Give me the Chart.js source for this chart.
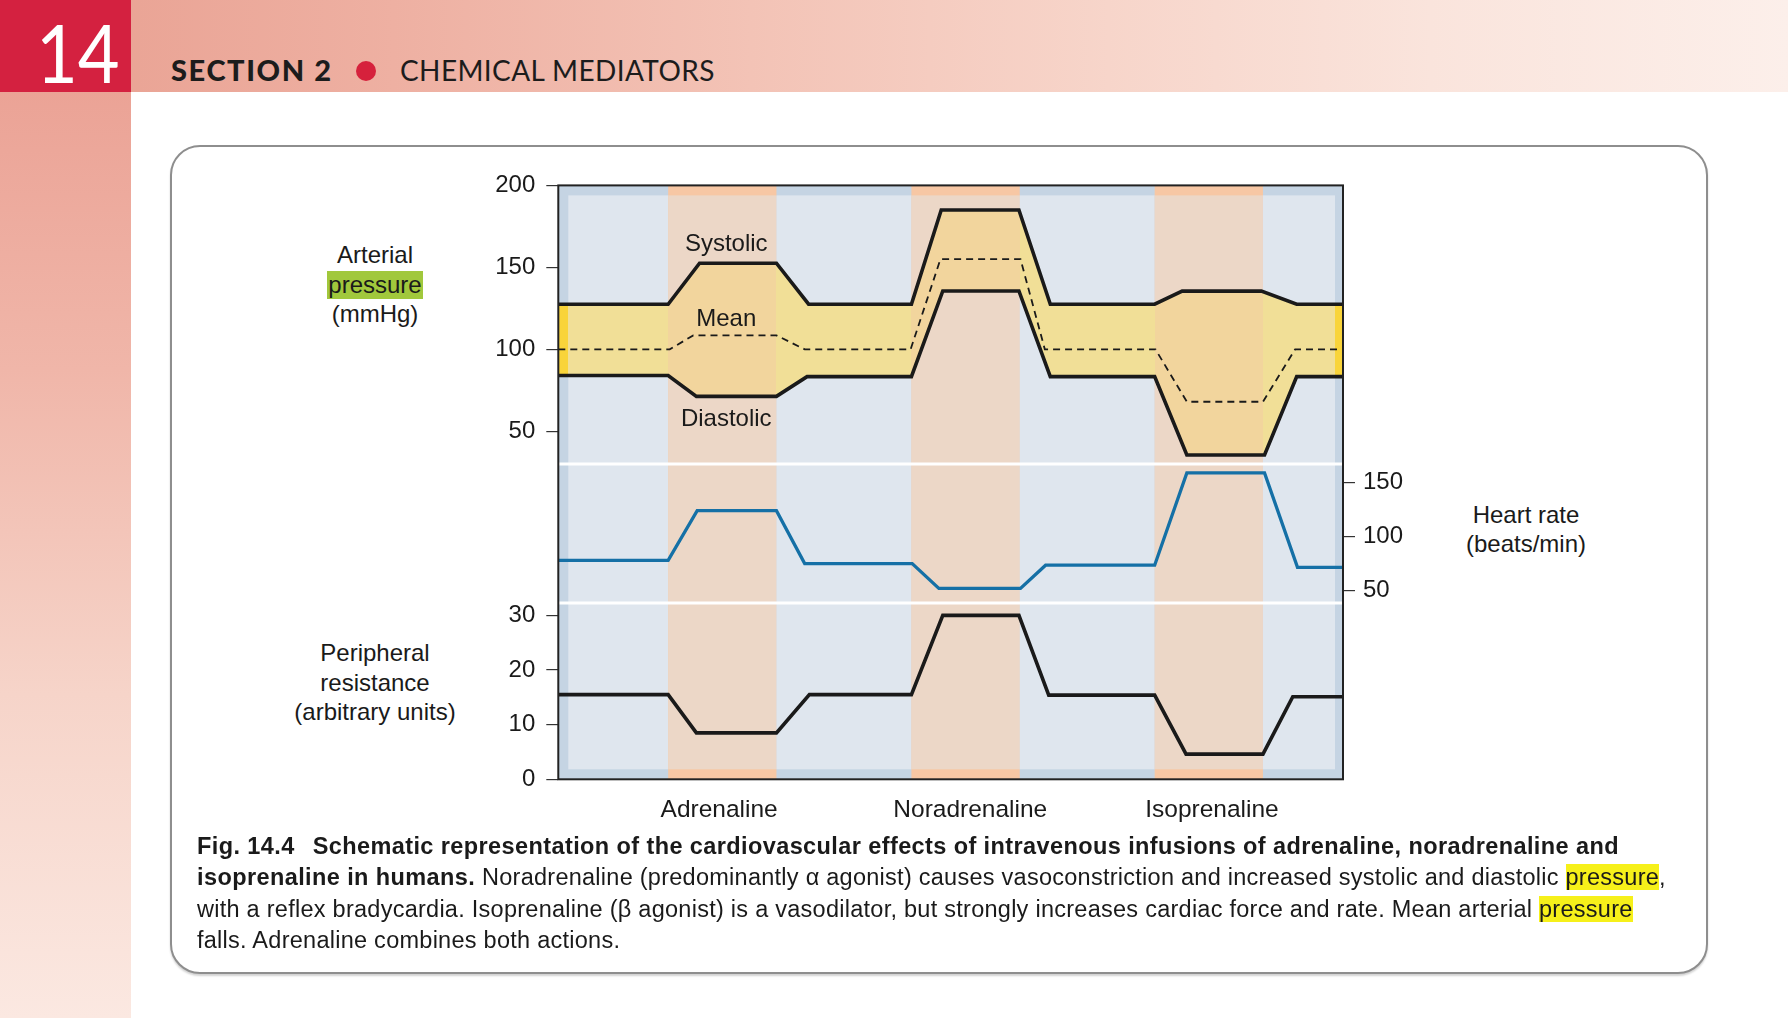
<!DOCTYPE html>
<html>
<head>
<meta charset="utf-8">
<script src="https://cdn.jsdelivr.net/npm/chart.js@4.4.1/dist/chart.umd.min.js"></script>
<style>
html,body{margin:0;padding:0}
body{width:1788px;height:1018px;position:relative;overflow:hidden;background:#fff;font-family:"Liberation Sans",Arial,Helvetica,sans-serif;color:#1a1a1a}
.abs{position:absolute}
#hdr{left:0;top:0;width:1788px;height:92px;background:linear-gradient(90deg,#e89f90 0%,#eeb0a2 22%,#f3c3b6 42%,#f7d5ca 62%,#fae4dc 80%,#fcefea 100%)}
#side{left:0;top:92px;width:131px;height:926px;background:linear-gradient(180deg,#eba396 0%,#f0b6a9 30%,#f6d4c9 65%,#fbe8e1 100%)}
#chap{left:0;top:0;width:131px;height:92px;background:#d42140;overflow:hidden}
#chapnum{left:36px;top:10px;color:#fff;font-family:Lato,"DejaVu Sans","Liberation Sans",sans-serif;font-weight:400;font-size:82px;line-height:82px;transform:scaleX(0.88);transform-origin:0 0;white-space:nowrap}
#sec{left:171px;top:53px;font-family:Lato,"Open Sans","Liberation Sans",sans-serif;font-weight:900;font-size:29px;line-height:34px;letter-spacing:1.6px;color:#1c1c1c;white-space:nowrap}
#dot{left:356px;top:61px;width:20px;height:20px;border-radius:50%;background:#d6213c}
#chem{left:400px;top:53px;font-family:Lato,"Open Sans","Liberation Sans",sans-serif;font-weight:400;font-size:28px;line-height:34px;color:#1c1c1c;white-space:nowrap;letter-spacing:0.4px}
#box{left:170px;top:145px;width:1538px;height:829px;box-sizing:border-box;border:2px solid #8e8e8e;border-radius:30px;background:#fff;box-shadow:0 2px 2px rgba(0,0,0,0.18)}
#cv{left:440px;top:160px;width:1060px;height:680px}
.lab{font-size:24px;line-height:29.6px;text-align:center;color:#1a1a1a;white-space:nowrap}
#artl{left:275px;top:240px;width:200px}
#perl{left:275px;top:638px;width:200px}
#hrl{left:1426px;top:500px;width:200px;line-height:29px}
.gre{background:#a1c83c;display:inline-block;line-height:28px;padding:0 1px}
#cap{left:197px;top:831px;font-size:23.5px;letter-spacing:0.26px;line-height:31.3px;color:#1a1a1a;white-space:nowrap}
#cap b{letter-spacing:0.4px}
.yel{background:#f6f01a}
</style>
</head>
<body>
<div id="hdr" class="abs"></div>
<div id="side" class="abs"></div>
<div id="chap" class="abs"><div id="chapnum" class="abs">14</div></div>
<div id="sec" class="abs">SECTION 2</div>
<div id="dot" class="abs"></div>
<div id="chem" class="abs">CHEMICAL MEDIATORS</div>
<div id="box" class="abs"></div>

<div id="artl" class="abs lab">Arterial<br><span class="gre">pressure</span><br>(mmHg)</div>
<div id="perl" class="abs lab">Peripheral<br>resistance<br>(arbitrary units)</div>
<div id="hrl" class="abs lab">Heart rate<br>(beats/min)</div>

<canvas id="cv" class="abs" width="1060" height="680"></canvas>

<div id="cap" class="abs"><b>Fig. 14.4</b><span style="display:inline-block;width:18px"></span><b>Schematic representation of the cardiovascular effects of intravenous infusions of adrenaline, noradrenaline and</b><br><b>isoprenaline in humans.</b> Noradrenaline (predominantly α agonist) causes vasoconstriction and increased systolic and diastolic <span class="yel">pressure</span>,<br>with a reflex bradycardia. Isoprenaline (β agonist) is a vasodilator, but strongly increases cardiac force and rate. Mean arterial <span class="yel">pressure</span><br>falls. Adrenaline combines both actions.</div>

<script>
// ---------- data ----------
const drugNames = ['Adrenaline', 'Noradrenaline', 'Isoprenaline'];
const drugLabelTime = [20.5, 52.5, 83.3];
const bandStart = [14.0, 45.0, 76.0];
const bandEnd = [27.8, 58.8, 89.8];

const sysTime = [0, 14.0, 18.0, 27.8, 31.9, 45.0, 48.8, 58.7, 62.7, 76.0, 79.5, 89.6, 94.1, 100];
const systolic = [127.5, 127.5, 152.5, 152.5, 127.5, 127.5, 185, 185, 127.5, 127.5, 135.5, 135.5, 127.5, 127.5];

const meanTime = [0, 14.2, 17.2, 27.8, 31.4, 44.9, 48.7, 58.9, 62.0, 76.1, 80.1, 89.8, 93.9, 100];
const meanPressure = [100, 100, 108.5, 108.5, 100, 100, 155, 155, 100, 100, 68, 68, 100, 100];

const diaTime = [0, 14.0, 17.6, 27.8, 31.7, 45.0, 49.0, 58.7, 62.7, 76.0, 80.1, 90.0, 94.1, 100];
const diastolic = [84, 84, 71.3, 71.3, 83.3, 83.3, 135.6, 135.6, 83.3, 83.3, 35.5, 35.5, 83.3, 83.3];

const hrTime = [0, 14.0, 17.7, 27.8, 31.4, 45.1, 48.5, 58.9, 62.1, 76.0, 80.1, 90.0, 94.2, 100];
const heartRate = [78, 78, 124, 124, 75, 75, 52, 52, 73.5, 73.5, 159, 159, 71.5, 71.5];

const resTime = [0, 14.0, 17.6, 27.8, 32.0, 45.0, 49.0, 58.7, 62.5, 76.0, 80.0, 89.8, 93.6, 100];
const resistance = [15.5, 15.5, 8.5, 8.5, 15.5, 15.5, 30, 30, 15.4, 15.4, 4.6, 4.6, 15.1, 15.1];

const pressureTicks = [50, 100, 150, 200];
const heartRateTicks = [50, 100, 150];
const resistanceTicks = [0, 10, 20, 30];

// in-chart series labels (anchored in data units)
const seriesLabels = [
  {text: 'Systolic', x: 21.4, y: 163.8},
  {text: 'Mean', x: 21.4, y: 118},
  {text: 'Diastolic', x: 21.4, y: 57}
];

// ---------- styling ----------
const FONT = '"Liberation Sans", Arial, Helvetica, sans-serif';
Chart.defaults.font.family = FONT;
Chart.defaults.color = '#1a1a1a';
const INSET = {left: 10, right: 8, top: 10, bottom: 10};
const COL = {
  outerBlue: '#c5d4e3', outerPeach: '#f7c7a4',
  innerBlue: '#dfe6ee', innerPeach: '#ecd7c7',
  yelEdge: '#f9d43a', yelBlue: '#f1df97', yelPeach: '#f2d59d'
};

const pts = (xs, ys) => xs.map((x, i) => ({x: x, y: ys[i]}));
const setTicks = arr => (scale) => { scale.ticks = arr.map(v => ({value: v})); };

// column segments (pixel) inside inner rect: [x0, x1, isBand]
function columns(chart) {
  const a = chart.chartArea, x = chart.scales.x;
  const L = a.left + INSET.left, R = a.right - INSET.right;
  const edges = [x.min];
  bandStart.forEach((s, i) => { edges.push(s, bandEnd[i]); });
  edges.push(x.max);
  const out = [];
  for (let i = 0; i < edges.length - 1; i++) {
    const x0 = Math.max(L, x.getPixelForValue(edges[i]));
    const x1 = Math.min(R, x.getPixelForValue(edges[i + 1]));
    if (x1 > x0) out.push([x0, x1, i % 2 === 1]);
  }
  return out;
}

function pressureFill(context) {
  const chart = context.chart;
  const a = chart.chartArea;
  if (!a || !chart.scales.x) return COL.yelBlue;
  const g = chart.ctx.createLinearGradient(a.left, 0, a.right, 0);
  const off = px => Math.min(1, Math.max(0, (px - a.left) / a.width));
  const add = (p0, p1, c) => { g.addColorStop(off(p0), c); g.addColorStop(off(p1), c); };
  add(a.left, a.left + INSET.left, COL.yelEdge);
  columns(chart).forEach(([x0, x1, band]) => add(x0, x1, band ? COL.yelPeach : COL.yelBlue));
  add(a.right - INSET.right, a.right, COL.yelEdge);
  return g;
}

const panelPlugin = {
  id: 'panelPlugin',
  beforeDraw(chart) {
    const {ctx, chartArea: a, scales: {x}} = chart;
    ctx.save();
    ctx.fillStyle = COL.outerBlue;
    ctx.fillRect(a.left, a.top, a.width, a.height);
    ctx.fillStyle = COL.outerPeach;
    for (let i = 0; i < bandStart.length; i++) {
      const x0 = x.getPixelForValue(bandStart[i]);
      const x1 = x.getPixelForValue(bandEnd[i]);
      ctx.fillRect(x0, a.top, x1 - x0, a.height);
    }
    const T = a.top + INSET.top, B = a.bottom - INSET.bottom;
    columns(chart).forEach(([x0, x1, band]) => {
      ctx.fillStyle = band ? COL.innerPeach : COL.innerBlue;
      ctx.fillRect(x0, T, x1 - x0, B - T);
    });
    ctx.restore();
  },
  beforeDatasetsDraw(chart) {
    const {ctx, chartArea: a, scales} = chart;
    ctx.save();
    ctx.strokeStyle = '#ffffff';
    ctx.lineWidth = 3;
    const g = scales.yGap;
    [g.top, g.bottom].forEach(y => {
      ctx.beginPath();
      ctx.moveTo(a.left, y);
      ctx.lineTo(a.right, y);
      ctx.stroke();
    });
    ctx.restore();
  },
  afterDatasetsDraw(chart) {
    const {ctx, chartArea: a, scales} = chart;
    ctx.save();
    ctx.strokeStyle = '#222';
    ctx.lineWidth = 2;
    ctx.strokeRect(a.left, a.top, a.width, a.height);
    ctx.fillStyle = '#1a1a1a';
    ctx.font = '24px ' + FONT;
    ctx.textAlign = 'center';
    ctx.textBaseline = 'middle';
    seriesLabels.forEach(l => {
      ctx.fillText(l.text, scales.x.getPixelForValue(l.x), scales.yP.getPixelForValue(l.y));
    });
    ctx.restore();
  }
};

const yTickFont = {size: 24, family: FONT};
const tickGrid = {drawOnChartArea: false, drawTicks: true, tickLength: 12, color: '#333', lineWidth: 1.2};

new Chart(document.getElementById('cv'), {
  type: 'line',
  data: {
    datasets: [
      {label: 'Systolic', data: pts(sysTime, systolic), yAxisID: 'yP', borderColor: '#1a1a1a', borderWidth: 3.6,
       fill: {target: 2}, backgroundColor: pressureFill},
      {label: 'Mean', data: pts(meanTime, meanPressure), yAxisID: 'yP', borderColor: '#1a1a1a', borderWidth: 1.8,
       borderDash: [7, 5], fill: false},
      {label: 'Diastolic', data: pts(diaTime, diastolic), yAxisID: 'yP', borderColor: '#1a1a1a', borderWidth: 3.6, fill: false},
      {label: 'Heart rate', data: pts(hrTime, heartRate), yAxisID: 'yH', borderColor: '#1570a6', borderWidth: 3.3, fill: false},
      {label: 'Peripheral resistance', data: pts(resTime, resistance), yAxisID: 'yR', borderColor: '#1a1a1a', borderWidth: 3.6, fill: false}
    ]
  },
  options: {
    responsive: false,
    devicePixelRatio: 1,
    animation: false,
    events: [],
    elements: {
      point: {radius: 0},
      line: {tension: 0, borderJoinStyle: 'miter', borderCapStyle: 'butt'}
    },
    layout: {padding: {left: 0, top: 23.5, right: 77, bottom: 10.7}},
    plugins: {
      legend: {display: false},
      tooltip: {enabled: false},
      filler: {drawTime: 'beforeDatasetsDraw'}
    },
    scales: {
      x: {
        type: 'linear', min: 0, max: 100,
        afterBuildTicks: setTicks(drugLabelTime),
        ticks: {callback: (v, i) => drugNames[i], font: {size: 24.5, family: FONT}, color: '#1a1a1a', padding: 16, maxRotation: 0, autoSkip: false},
        grid: {display: false, drawTicks: false},
        border: {display: false},
        afterFit: (s) => { s.height = 50; }
      },
      yP: {
        type: 'linear', position: 'left', stack: 'panels', stackWeight: 279.7, weight: 3,
        min: 30, max: 200,
        afterBuildTicks: setTicks(pressureTicks),
        ticks: {font: yTickFont, color: '#1a1a1a', padding: 11},
        grid: tickGrid,
        border: {display: false},
        afterFit: (s) => { s.width = 118.3; }
      },
      yGap: {
        type: 'linear', position: 'left', stack: 'panels', stackWeight: 139.6, weight: 2,
        min: 0, max: 1,
        ticks: {display: false},
        grid: {display: false, drawTicks: false},
        border: {display: false},
        afterFit: (s) => { s.width = 118.3; }
      },
      yR: {
        type: 'linear', position: 'left', stack: 'panels', stackWeight: 176.9, weight: 1,
        min: 0, max: 32.24,
        afterBuildTicks: setTicks(resistanceTicks),
        ticks: {font: yTickFont, color: '#1a1a1a', padding: 11},
        grid: tickGrid,
        border: {display: false},
        afterFit: (s) => { s.width = 118.3; }
      },
      yH: {
        type: 'linear', position: 'right',
        min: -124.8, max: 425.3,
        afterBuildTicks: setTicks(heartRateTicks),
        ticks: {font: yTickFont, color: '#1a1a1a', padding: 8},
        grid: tickGrid,
        border: {display: false},
        afterFit: (s) => { s.width = 80; }
      }
    }
  },
  plugins: [panelPlugin]
});
</script>
</body>
</html>
